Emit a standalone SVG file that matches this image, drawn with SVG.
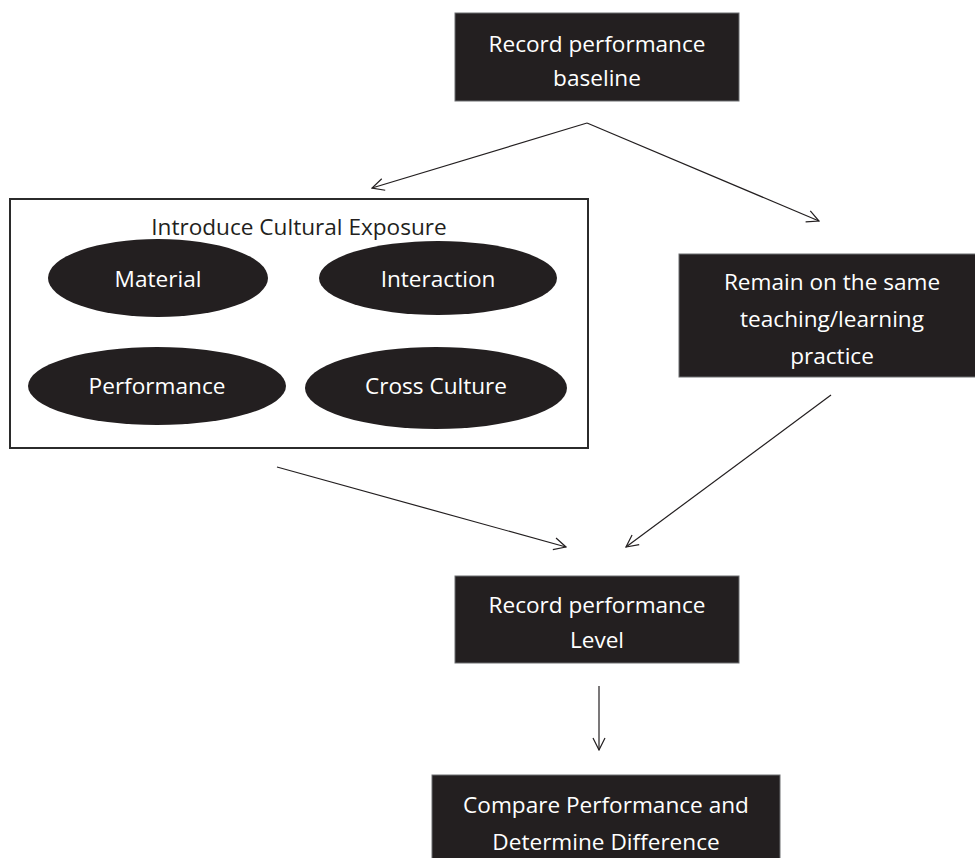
<svg xmlns="http://www.w3.org/2000/svg" width="975" height="858" viewBox="0 0 975 858">
  <style>
    .box { fill: #231f20; stroke: #6d6e71; stroke-width: 1; }
    .oval { fill: #231f20; }
    .frame { fill: #ffffff; stroke: #2b2b2b; stroke-width: 2; }
    .wt { fill: #ffffff; font-family: "Open Sans", "Noto Sans", sans-serif; font-size: 22.6px; text-anchor: middle; }
    .bt { fill: #231f20; font-family: "Open Sans", "Noto Sans", sans-serif; font-size: 22.6px; text-anchor: middle; }
    .link { fill: none; stroke: #231f20; stroke-width: 1.2; marker-end: url(#open-arrow); }
  </style>
  <defs>
    <marker id="open-arrow" viewBox="0 0 14 14" refX="13" refY="7" markerWidth="14" markerHeight="14" markerUnits="userSpaceOnUse" orient="auto">
      <path d="M1,1 L13,7 L1,13" fill="none" stroke="#231f20" stroke-width="1.2"/>
    </marker>
  </defs>
  <rect width="975" height="858" fill="#ffffff"/>

  <g id="baseline">
    <rect class="box" x="455" y="13" width="284" height="88"/>
    <text class="wt" x="597" y="52">Record performance</text>
    <text class="wt" x="597" y="86">baseline</text>
  </g>

  <g id="cultural-exposure">
    <rect class="frame" x="10" y="199" width="578" height="249"/>
    <text class="bt" x="299" y="235">Introduce Cultural Exposure</text>
    <g id="material">
      <ellipse class="oval" cx="158" cy="278" rx="110" ry="39"/>
      <text class="wt" x="158" y="287">Material</text>
    </g>
    <g id="interaction">
      <ellipse class="oval" cx="438" cy="278" rx="119" ry="37"/>
      <text class="wt" x="438" y="287">Interaction</text>
    </g>
    <g id="performance">
      <ellipse class="oval" cx="157" cy="386" rx="129" ry="39"/>
      <text class="wt" x="157" y="394">Performance</text>
    </g>
    <g id="cross-culture">
      <ellipse class="oval" cx="436" cy="388" rx="131" ry="41"/>
      <text class="wt" x="436" y="394">Cross Culture</text>
    </g>
  </g>

  <g id="same-practice">
    <rect class="box" x="679" y="254" width="300" height="123"/>
    <text class="wt" x="832" y="290">Remain on the same</text>
    <text class="wt" x="832" y="327">teaching/learning</text>
    <text class="wt" x="832" y="364">practice</text>
  </g>

  <g id="performance-level">
    <rect class="box" x="455" y="576" width="284" height="87"/>
    <text class="wt" x="597" y="613">Record performance</text>
    <text class="wt" x="597" y="648">Level</text>
  </g>

  <g id="compare">
    <rect class="box" x="432" y="775" width="348" height="90"/>
    <text class="wt" x="606" y="813">Compare Performance and</text>
    <text class="wt" x="606" y="850">Determine Difference</text>
  </g>

  <g id="connectors">
    <path class="link" d="M587,123 L372,188"/>
    <path class="link" d="M587,123 L819,221"/>
    <path class="link" d="M277,467 L566,547"/>
    <path class="link" d="M831,395 L626,547"/>
    <path class="link" d="M599,686 L599,750"/>
  </g>
</svg>
